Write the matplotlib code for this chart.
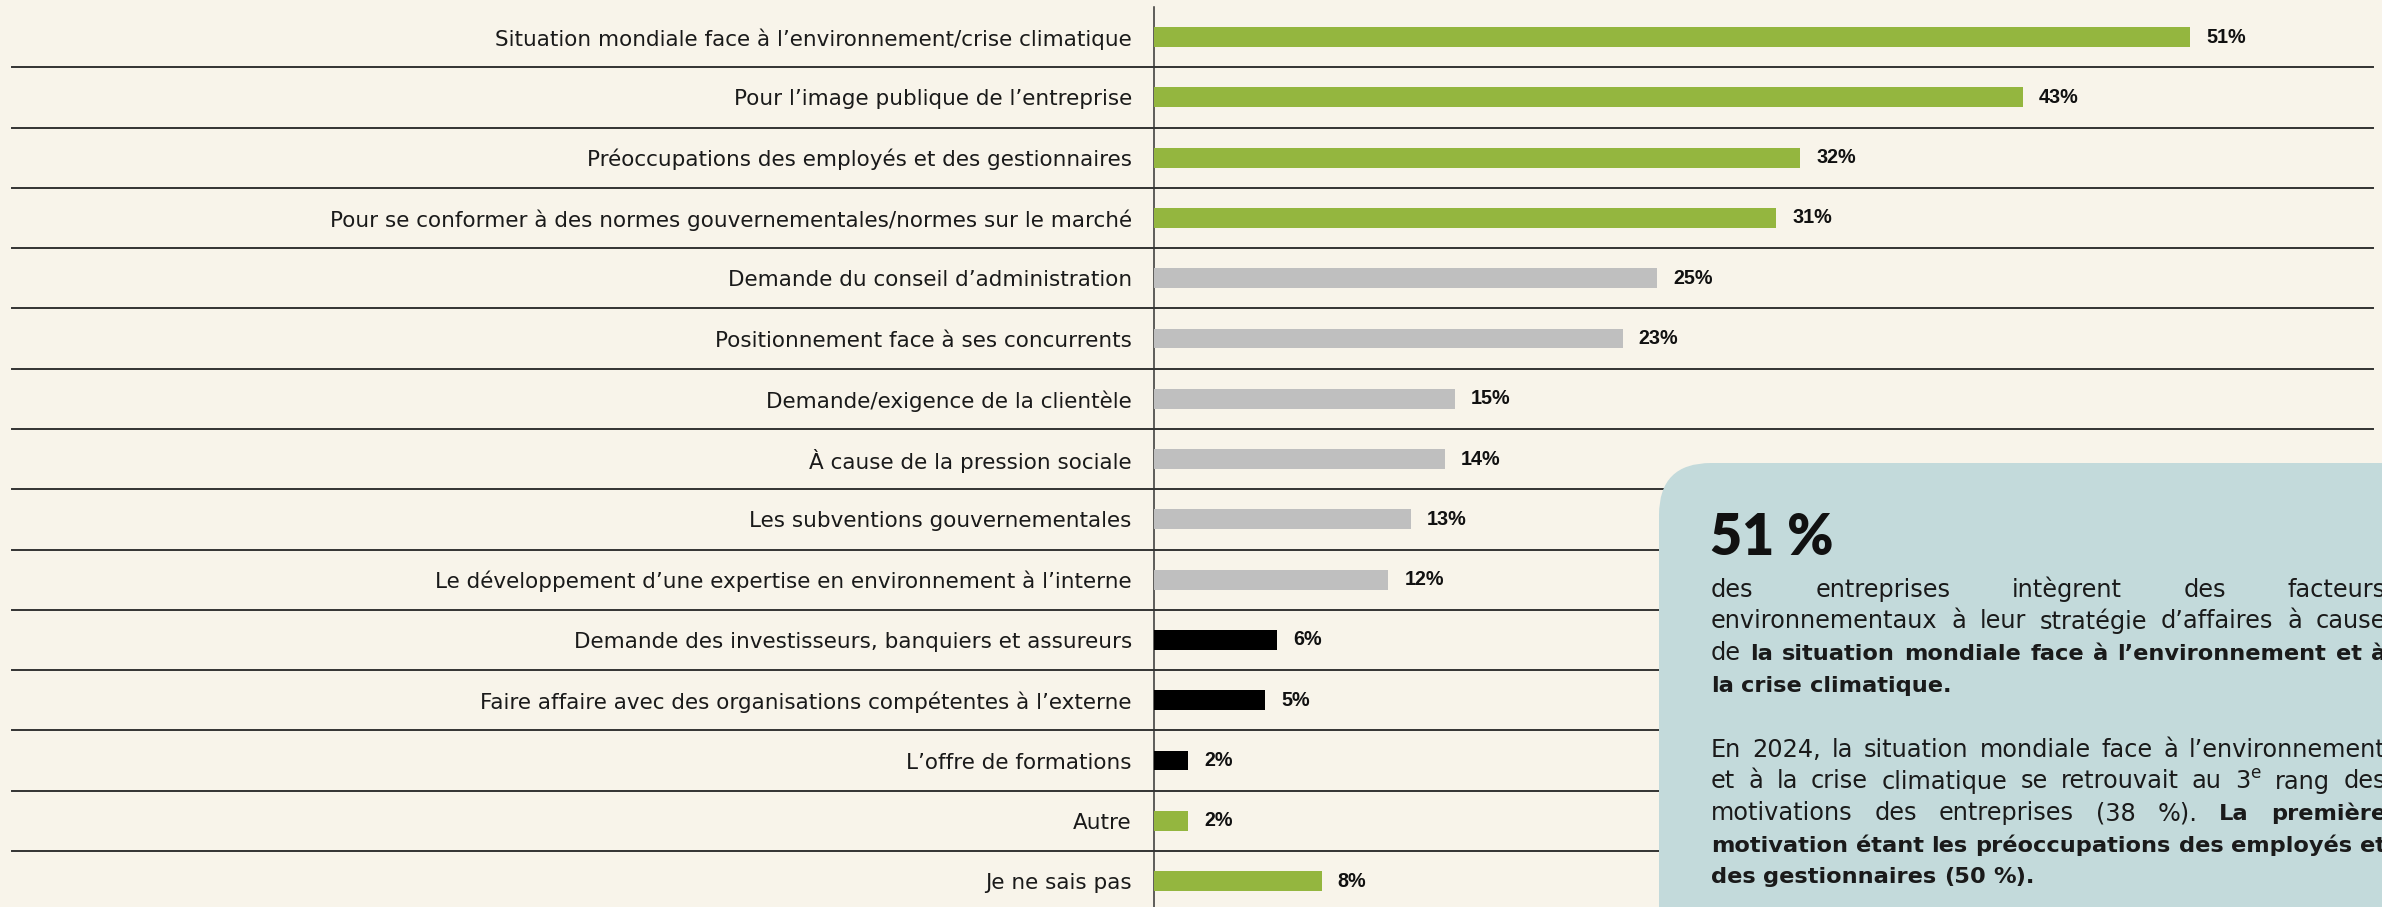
import matplotlib
matplotlib.use("Agg")
import matplotlib.pyplot as plt
from matplotlib.patches import FancyBboxPatch

# données (longueurs des barres en %, étiquettes arrondies)
categories = [
    "Situation mondiale face à l’environnement/crise climatique",
    "Pour l’image publique de l’entreprise",
    "Préoccupations des employés et des gestionnaires",
    "Pour se conformer à des normes gouvernementales/normes sur le marché",
    "Demande du conseil d’administration",
    "Positionnement face à ses concurrents",
    "Demande/exigence de la clientèle",
    "À cause de la pression sociale",
    "Les subventions gouvernementales",
    "Le développement d’une expertise en environnement à l’interne",
    "Demande des investisseurs, banquiers et assureurs",
    "Faire affaire avec des organisations compétentes à l’externe",
    "L’offre de formations",
    "Autre",
    "Je ne sais pas",
]
valeurs = [51.3, 43.0, 32.0, 30.8, 24.9, 23.2, 14.9, 14.4, 12.7, 11.6,
           6.1, 5.5, 1.7, 1.7, 8.3]
etiquettes = ["51%", "43%", "32%", "31%", "25%", "23%", "15%", "14%",
              "13%", "12%", "6%", "5%", "2%", "2%", "8%"]
groupes = ["vert"] * 4 + ["gris"] * 6 + ["noir"] * 3 + ["vert"] * 2

titre_encadre = "51 %"
# (segments (texte, gras), ligne justifiée ?)
paragraphe1 = [
    ([("des entreprises intègrent des facteurs", False)], True),
    ([("environnementaux à leur stratégie d’affaires à cause", False)], True),
    ([("de", False), ("la situation mondiale face à l’environnement et à", True)], True),
    ([("la crise climatique.", True)], False),
]
paragraphe2 = [
    ([("En 2024, la situation mondiale face à l’environnement", False)], True),
    ([("et à la crise climatique se retrouvait au 3$^{\\mathrm{e}}$ rang des", False)], True),
    ([("motivations des entreprises (38 %).", False), ("La première", True)], True),
    ([("motivation étant les préoccupations des employés et", True)], True),
    ([("des gestionnaires (50 %).", True)], False),
]

FOND, BOITE = "#f8f4ea", "#c3dadb"
COULEURS = {"vert": "#94b63f", "gris": "#bfbfbf", "noir": "#000000"}
ENCRE, LIGNE = "#1a1a1a", "#333333"
POLICE = "DejaVu Sans"

W, H = 2382, 907
PX_PAR_PCT = 20.2


def ligne_justifiee(axo, rend, x0, x1, y, segments, justifier):
    mots = []
    for texte, gras in segments:
        for m in texte.split(" "):
            mots.append((m, gras))
    objs = [axo.text(0, y, m, fontsize=16.2 if g else 17.3, family=POLICE,
                     weight="bold" if g else "normal", color=ENCRE,
                     va="baseline", ha="left") for m, g in mots]
    larg = [o.get_window_extent(rend).width for o in objs]
    a = axo.text(0, 0, "x x", fontsize=17.3, family=POLICE)
    b = axo.text(0, 0, "xx", fontsize=17.3, family=POLICE)
    espace = a.get_window_extent(rend).width - b.get_window_extent(rend).width
    a.remove()
    b.remove()
    if justifier and len(objs) > 1:
        espace = max(espace * 0.8, (x1 - x0 - sum(larg)) / (len(objs) - 1))
    x = x0
    for o, w in zip(objs, larg):
        o.set_x(x)
        x += w + espace


def main():
    fig = plt.figure(figsize=(W / 100, H / 100), dpi=100, facecolor=FOND)
    ax = fig.add_axes([1154 / W, 0, 60 * PX_PAR_PCT / W, 900 / H])
    ax.set_facecolor("none")
    y = list(range(len(categories)))
    ax.barh(y, valeurs, height=0.33, color=[COULEURS[g] for g in groupes],
            zorder=3)
    ax.set_xlim(0, 60)
    ax.set_ylim(len(categories) - 0.57, -0.5)
    ax.set_yticks(y, categories, fontsize=15.5, family=POLICE, color=ENCRE)
    ax.tick_params(axis="y", length=0, pad=16)
    ax.set_xticks([])
    for o in ("top", "right", "bottom"):
        ax.spines[o].set_visible(False)
    ax.spines["left"].set_color(LIGNE)
    ax.spines["left"].set_linewidth(1.1)

    # séparateurs entre les rangées
    x0 = (12 - 1154) / (60 * PX_PAR_PCT)
    x1 = (2373 - 1154) / (60 * PX_PAR_PCT)
    for i in range(len(categories) - 1):
        ax.plot([x0, x1], [i + 0.5, i + 0.5], transform=ax.get_yaxis_transform(),
                color=LIGNE, linewidth=1.4, clip_on=False, zorder=1)

    for yi, v, lab in zip(y, valeurs, etiquettes):
        ax.annotate(lab, (v, yi), xytext=(11.5, 0), textcoords="offset points",
                    va="center", ha="left", fontsize=14.2, weight="bold",
                    family="Liberation Sans", color="#111111")

    # encadré
    axo = fig.add_axes([0, 0, 1, 1], zorder=5)
    axo.set_xlim(0, W)
    axo.set_ylim(H, 0)
    axo.axis("off")
    axo.patch.set_alpha(0)
    axo.add_patch(FancyBboxPatch((1659, 463), 900, 600,
                                 boxstyle="round,pad=0,rounding_size=52",
                                 fc=BOITE, ec="none"))
    axo.text(1710, 555, titre_encadre, fontsize=40, weight="heavy",
             family="Lato", color="#111111", va="baseline", ha="left")

    rend = fig.canvas.get_renderer()
    for k, (segs, just) in enumerate(paragraphe1):
        ligne_justifiee(axo, rend, 1711, 2386, 597 + 31.5 * k, segs, just)
    for k, (segs, just) in enumerate(paragraphe2):
        ligne_justifiee(axo, rend, 1711, 2386, 757 + 31.5 * k, segs, just)

    fig.savefig("out.png", dpi=100, facecolor=FOND)


if __name__ == "__main__":
    main()
